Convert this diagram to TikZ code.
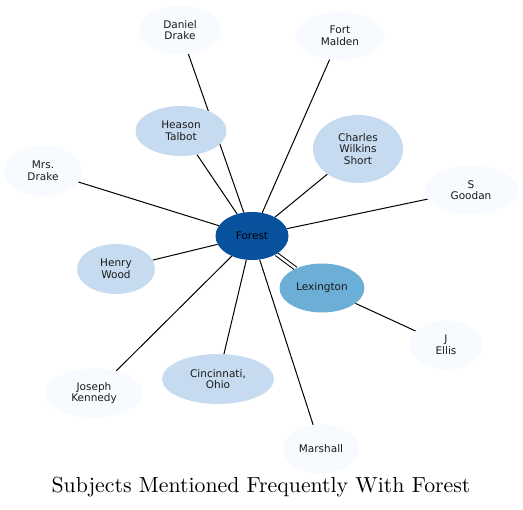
\documentclass[tikz,border=0pt]{standalone}
\usepackage{fontspec}
\newfontfamily\nodefont{DejaVu Sans}
\newfontfamily\titlefont[Extension=.otf]{lmroman10-regular}
\usetikzlibrary{shapes.geometric,backgrounds}
\definecolor{cA}{HTML}{F7FBFF}
\definecolor{cB}{HTML}{C6DBEF}
\definecolor{cC}{HTML}{6BAED6}
\definecolor{cD}{HTML}{08519C}
\definecolor{txt}{HTML}{1A1A1A}
\tikzset{
  ent/.style={ellipse, inner sep=0pt, draw=none, align=center, text=txt,
    font=\nodefont\fontsize{10.5}{11.5}\selectfont},
  lvA/.style={ent, fill=cA},
  lvB/.style={ent, fill=cB},
  lvC/.style={ent, fill=cC},
  lvD/.style={ent, fill=cD, text=black},
  link/.style={draw=black, line width=1pt},
  dlink/.style={draw=black, line width=1pt, double=white, double distance=2.4pt},
}
\begin{document}
\begin{tikzpicture}[x=1pt,y=-1pt]
\useasboundingbox (0,0) rectangle (523,510);
\node[lvA, minimum width=82pt, minimum height=49pt] (dd) at (180,30) {Daniel\\Drake};
\node[lvA, minimum width=89pt, minimum height=48pt] (fm) at (340,36) {Fort\\Malden};
\node[lvB, minimum width=91pt, minimum height=50pt] (ht) at (181,131) {Heason\\Talbot};
\node[lvB, minimum width=90pt, minimum height=68pt] (cws) at (358,149) {Charles\\Wilkins\\Short};
\node[lvA, minimum width=78pt, minimum height=50pt] (md) at (43,171) {Mrs.\\Drake};
\node[lvA, minimum width=93pt, minimum height=48pt] (sg) at (471,190) {S\\Goodan};
\node[lvD, minimum width=73pt, minimum height=48pt] (fo) at (252,236) {Forest};
\node[lvB, minimum width=78pt, minimum height=50pt] (hw) at (116,269) {Henry\\Wood};
\node[lvC, minimum width=85pt, minimum height=49pt] (lx) at (322,288) {Lexington};
\node[lvA, minimum width=73pt, minimum height=49pt] (je) at (446,345) {J\\Ellis};
\node[lvA, minimum width=98pt, minimum height=49pt] (jk) at (94,393) {Joseph\\Kennedy};
\node[lvB, minimum width=112pt, minimum height=50pt] (co) at (218,379) {Cincinnati,\\Ohio};
\node[lvA, minimum width=76pt, minimum height=49pt] (ma) at (321,449) {Marshall};
\node[font=\titlefont\fontsize{21.8}{25}\selectfont, inner sep=0pt, anchor=base] (title) at (261,493) {Subjects Mentioned Frequently With Forest};
\begin{pgfonlayer}{background}
\draw[link] (fo.center) -- (dd.center);
\draw[link] (fo) -- (ht);
\draw[link] (fo) -- (fm);
\draw[link] (fo) -- (cws);
\draw[link] (fo) -- (md);
\draw[link] (fo) -- (sg);
\draw[link] (fo) -- (hw);
\draw[dlink] (fo) -- (lx);
\draw[link] (fo) -- (jk);
\draw[link] (fo) -- (co);
\draw[link] (fo) -- (ma);
\draw[link] (lx) -- (je);
\end{pgfonlayer}
\end{tikzpicture}
\end{document}
